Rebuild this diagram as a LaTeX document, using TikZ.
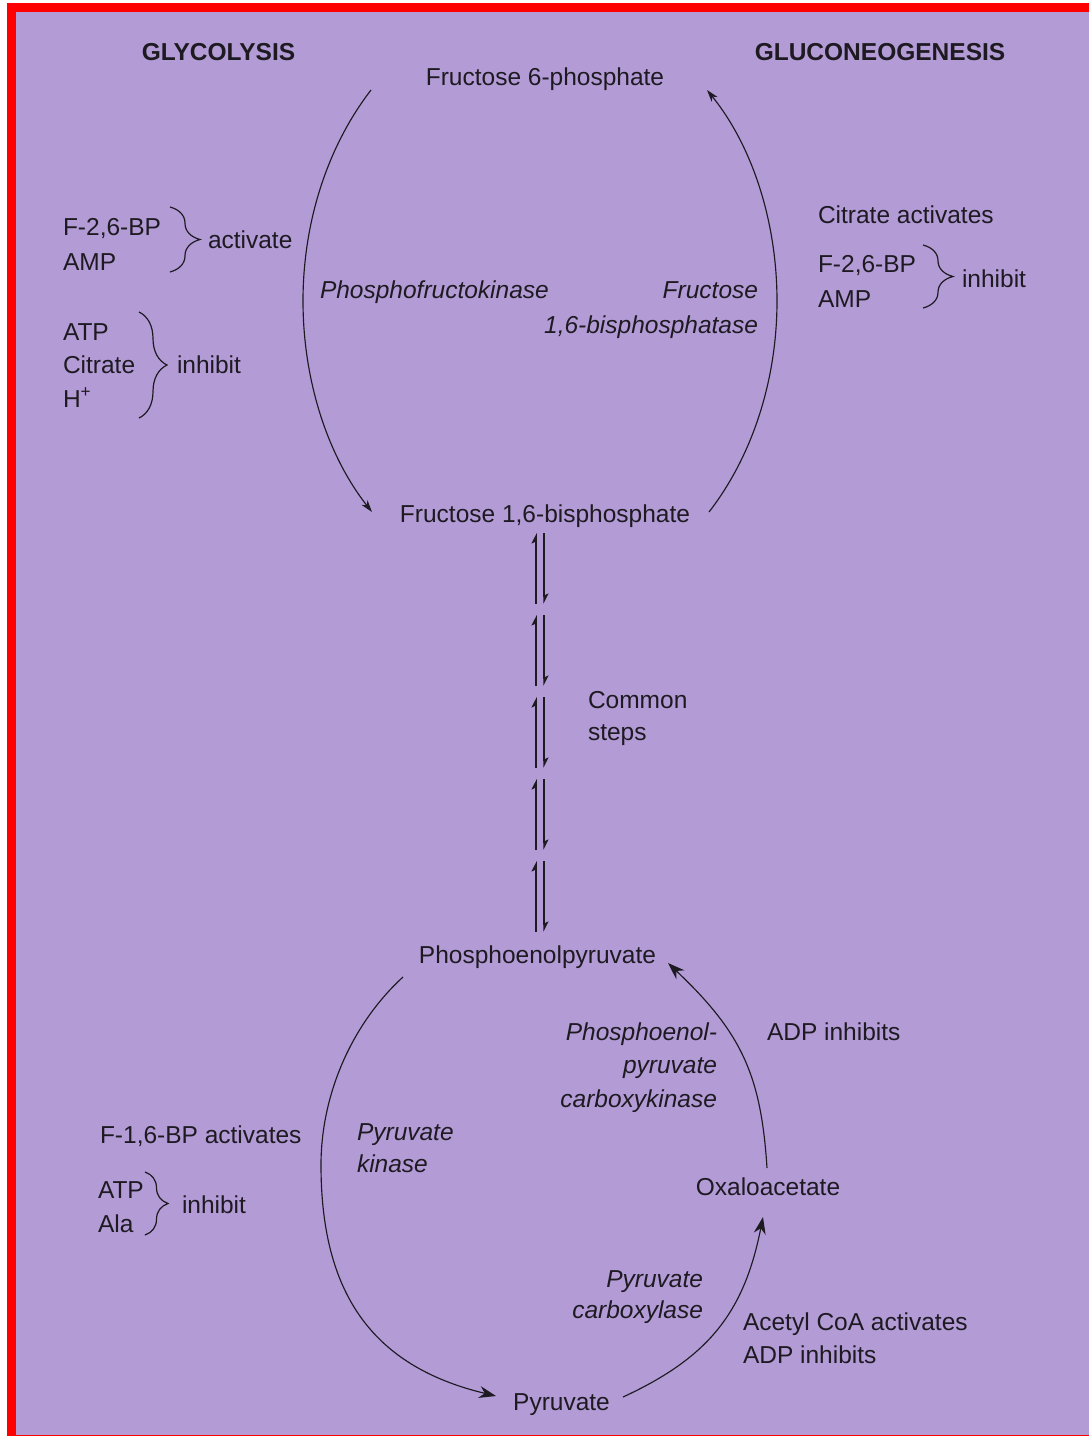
\documentclass[tikz,border=0pt]{standalone}
\usepackage{fontspec}
\setmainfont{Liberation Sans}
\usetikzlibrary{arrows.meta,decorations.pathreplacing,calc}
\definecolor{bgpurple}{RGB}{179,155,214}
\definecolor{ink}{RGB}{30,26,34}
\definecolor{frame}{RGB}{255,0,0}
\begin{document}
\begin{tikzpicture}[x=1pt,y=-1pt,
  every node/.style={inner sep=0pt, outer sep=0pt, text=ink, font=\fontsize{24.5}{30}\selectfont},
  lbl/.style={anchor=base west},
  lblr/.style={anchor=base east},
  lblc/.style={anchor=base},
  enz/.style={font=\fontsize{24.5}{30}\selectfont\itshape},
  hdr/.style={font=\fontsize{24.5}{30}\selectfont\bfseries},
  arcline/.style={draw=ink, line width=1.15pt},
  smalltip/.style={-{Stealth[length=12pt,width=7.5pt,inset=3.5pt]}},
  bigtip/.style={-{Stealth[length=17pt,width=12pt,inset=5.5pt]}},
  eqline/.style={draw=ink, line width=1.5pt, -{Stealth[harpoon,length=9pt,width=9pt,inset=2pt]}},
  brc/.style={draw=ink, line width=1.2pt, decorate, decoration={brace, amplitude=#1}},
]
% frame and background
\useasboundingbox (0,0) rectangle (1089,1436);
\fill[white] (0,0) rectangle (1089,1436);
\fill[frame] (7,3) rectangle (1089,1436);
\fill[bgpurple] (16,12) rectangle (1089,1435);

% headers
\node[hdr, lblc] (glyc) at (218.5,60) {GLYCOLYSIS};
\node[hdr, lblc] (gluco) at (880,60) {GLUCONEOGENESIS};

% metabolites
\node[lblc] (f6p) at (545,85) {Fructose 6-phosphate};
\node[lblc] (f16bp) at (545,522) {Fructose 1,6-bisphosphate};
\node[lblc] (pep) at (537.5,963) {Phosphoenolpyruvate};
\node[lblc] (oaa) at (768,1195) {Oxaloacetate};
\node[lblc] (pyr) at (561.5,1410) {Pyruvate};

% enzymes
\node[enz, lbl] (pfk) at (320,298) {Phosphofructokinase};
\node[enz, lblr] (fbpA) at (758,298) {Fructose};
\node[enz, lblr] (fbpB) at (758,333) {1,6-bisphosphatase};
\node[enz, lblr] (pepckA) at (717,1040) {Phosphoenol-};
\node[enz, lblr] (pepckB) at (717,1073) {pyruvate};
\node[enz, lblr] (pepckC) at (717,1107) {carboxykinase};
\node[enz, lbl] (pkA) at (357,1140) {Pyruvate};
\node[enz, lbl] (pkB) at (357,1172) {kinase};
\node[enz, lblr] (pcA) at (703,1287) {Pyruvate};
\node[enz, lblr] (pcB) at (703,1318) {carboxylase};

% common steps
\node[lbl] (commonA) at (588,708) {Common};
\node[lbl] (commonB) at (588,740) {steps};

% regulators: PFK
\node[lbl] (pfkR1) at (63,235) {F-2,6-BP};
\node[lbl] (pfkR2) at (63,270) {AMP};
\draw[brc=30] (170,207) -- (170,272);
\node[lbl] (pfkAct) at (208,248) {activate};
\node[lbl] (pfkI1) at (63,340) {ATP};
\node[lbl] (pfkI2) at (63,373) {Citrate};
\node[lbl] (pfkI3) at (63,407) {H\textsuperscript{+}};
\draw[brc=28] (139,312) -- (139,418);
\node[lbl] (pfkInh) at (177,373) {inhibit};

% regulators: FBPase
\node[lbl] (fbpAct) at (818,223) {Citrate activates};
\node[lbl] (fbpI1) at (818,272) {F-2,6-BP};
\node[lbl] (fbpI2) at (818,307) {AMP};
\draw[brc=30] (923,245) -- (923,308);
\node[lbl] (fbpInh) at (962,287) {inhibit};

% regulators: PEPCK
\node[lbl] (pepckR) at (767,1040) {ADP inhibits};

% regulators: PK
\node[lbl] (pkAct) at (100,1143) {F-1,6-BP activates};
\node[lbl] (pkI1) at (98,1198) {ATP};
\node[lbl] (pkI2) at (98,1232) {Ala};
\draw[brc=23] (145,1172) -- (145,1235);
\node[lbl] (pkInh) at (182,1213) {inhibit};

% regulators: PC
\node[lbl] (pcR1) at (743,1330) {Acetyl CoA activates};
\node[lbl] (pcR2) at (743,1363) {ADP inhibits};

% arc end points
\coordinate (pfkS) at (371,90);
\coordinate (pfkE) at (372,512);
\coordinate (fbpS) at (709,512);
\coordinate (fbpE) at (707,90);
\coordinate (pkS) at (403,977);
\coordinate (pkE) at (496,1396);
\coordinate (pcS) at (623,1397);
\coordinate (pcE) at (763,1217);
\coordinate (pepckS) at (767,1168);
\coordinate (pepckE) at (668,963);

% upper cycle
\draw[arcline, smalltip] (pfkS) .. controls (327.3,146.7) and (303,222.3) .. (303,301)
  .. controls (303,379.7) and (327.3,455.3) .. (pfkE);
\draw[arcline, smalltip] (fbpS) .. controls (752.5,455.8) and (777,380) .. (777,301)
  .. controls (777,222) and (752.5,146.2) .. (fbpE);

% lower cycle
\draw[arcline, bigtip] (pkS) .. controls (351.4,1024.3) and (321,1095) .. (321,1165)
  .. controls (321,1290) and (369.5,1365.8) .. (pkE);
\draw[arcline, bigtip] (pcS) .. controls (708.6,1357.5) and (744.1,1312.5) .. (pcE);
\draw[arcline, bigtip] (pepckS) .. controls (761.1,1075.5) and (741.9,1032.9) .. (pepckE);

% common reversible steps
\foreach \yy in {533,615,697,779,861} {
  \draw[eqline] (536,\yy+71) -- (536,\yy);
  \draw[eqline] (544,\yy) -- (544,\yy+71);
}
\end{tikzpicture}
\end{document}
